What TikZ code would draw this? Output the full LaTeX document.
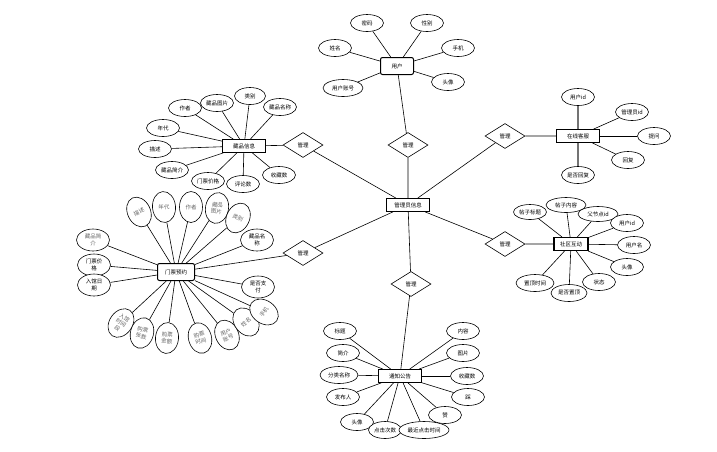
\documentclass[tikz,border=0pt]{standalone}
\usepackage{fontspec}
\setmainfont{Noto Sans CJK SC}
\usetikzlibrary{shapes.geometric}
\begin{document}
\begin{tikzpicture}[x=1pt,y=-1pt,
 att/.style={ellipse,draw,fill=white,line width=0.6pt,minimum width=33pt,minimum height=17pt,inner sep=0pt,align=center,font=\fontsize{5.5}{6}\selectfont},
 att2/.style={att,minimum height=22pt,font=\fontsize{5.5}{6.5}\selectfont},
 ent/.style={rectangle,draw,fill=white,line width=0.8pt,minimum width=43pt,minimum height=13pt,inner sep=0pt,font=\fontsize{5.5}{6}\selectfont},
 rent/.style={ent,rounded corners=2pt,line width=1pt},
 rel/.style={diamond,draw,fill=white,line width=0.6pt,minimum width=40pt,minimum height=25pt,inner sep=0pt,aspect=1.6,font=\fontsize{5.5}{6}\selectfont},
 vatt/.style={ellipse,draw,fill=white,line width=0.6pt,minimum width=23pt,minimum height=31pt,inner sep=-1pt,align=center,font=\fontsize{5.5}{6.3}\selectfont,text=black!60},
 lnk/.style={line width=0.6pt},
 glnk/.style={line width=1.4pt,draw=black!55}]
\useasboundingbox (0,0) rectangle (717,451);

% central
\node[ent] (adm) at (408,205) {管理员信息};
\node[rel] (r1) at (408,145) {管理};
\node[rel] (r2) at (303,145) {管理};
\node[rel] (r3) at (505,136) {管理};
\node[rel] (r4) at (303,253) {管理};
\node[rel] (r5) at (505,244) {管理};
\node[rel] (r6) at (411,284) {管理};

% user
\node[rent,minimum width=33pt,minimum height=17pt] (user) at (397,66) {用户};
\node[att] (u1) at (367,23) {密码};
\node[att] (u2) at (427,23) {性别};
\node[att] (u3) at (335,48) {姓名};
\node[att] (u4) at (458,48) {手机};
\node[att,minimum width=40pt] (u5) at (343,88) {用户账号};
\node[att] (u6) at (448,82) {头像};

% collection
\node[ent] (col) at (244,146) {藏品信息};
\node[att] (c1) at (185,108) {作者};
\node[att] (c2) at (217,103) {藏品图片};
\node[att,minimum width=31pt] (c3) at (250,96) {类别};
\node[att] (c4) at (280,107) {藏品名称};
\node[att] (c5) at (163,128) {年代};
\node[att] (c6) at (155,149) {描述};
\node[att] (c7) at (172,170) {藏品简介};
\node[att] (c8) at (208,181) {门票价格};
\node[att] (c9) at (243,184) {评论数};
\node[att] (c10) at (279,175) {收藏数};

% service
\node[ent] (svc) at (578,136) {在线客服};
\node[att] (s1) at (578,97) {用户id};
\node[att] (s2) at (632,112) {管理员id};
\node[att] (s3) at (654,136) {提问};
\node[att] (s4) at (628,160) {回复};
\node[att] (s5) at (578,175) {是否回复};

% community
\node[ent,minimum width=34pt,line width=1.2pt] (com) at (571,244) {社区互动};
\node[att,minimum height=15pt] (m1) at (530,212) {帖子标题};
\node[att,minimum width=40pt,minimum height=15pt] (m2) at (566,205) {帖子内容};
\node[att,minimum width=40pt,minimum height=15pt] (m3) at (598,214) {父节点id};
\node[att] (m4) at (627,223) {用户id};
\node[att] (m5) at (634,245) {用户名};
\node[att] (m6) at (627,267) {头像};
\node[att] (m7) at (599,282) {状态};
\node[att,minimum width=38pt] (m9) at (535,283) {置顶时间};
\node[att,minimum width=36pt] (m8) at (569,293) {是否置顶};

% notice
\node[ent] (ntc) at (400,376) {通知公告};
\node[att] (n1) at (340,331) {标题};
\node[att] (n2) at (343,353) {简介};
\node[att,minimum width=38pt] (n3) at (339,375) {分类名称};
\node[att] (n4) at (343,397) {发布人};
\node[att] (n5) at (357,422) {头像};
\node[att] (n6) at (385,430) {点击次数};
\node[att,minimum width=50pt] (n7) at (424,430) {最近点击时间};
\node[att] (n8) at (445,415) {赞};
\node[att] (n9) at (468,397) {踩};
\node[att] (n10) at (467,376) {收藏数};
\node[att] (n11) at (463,353) {图片};
\node[att] (n12) at (463,331) {内容};

% ticket
\node[rent,minimum width=37pt,minimum height=17pt] (tk) at (176,272) {门票预约};
\node[vatt,rotate=25] (v1) at (139,212) {描述};
\node[vatt,rotate=5] (v2) at (164,207) {年代};
\node[vatt] (v3) at (191,207) {作者};
\node[vatt,rotate=-10] (v4) at (217,208) {藏品\\图片};
\node[vatt,rotate=-25] (v5) at (238,218) {类别};
\node[att2] (v6) at (257,240) {藏品名\\称};
\node[att2,text=black!60] (v7) at (93,240) {藏品简\\介};
\node[att2] (v8) at (94,265) {门票价\\格};
\node[att2] (v9) at (94,285) {入馆日\\期};
\node[att2] (v10) at (258,287) {是否支\\付};
\node[vatt,rotate=-35] (b1) at (121,323) {入馆\\时间\\段};
\node[vatt,rotate=-15] (b2) at (142,333) {购票\\张数};
\node[vatt,rotate=-5] (b3) at (167,338) {购票\\金额};
\node[vatt,rotate=15] (b4) at (200,338) {购票\\时间};
\node[vatt,rotate=25] (b5) at (227,335) {用户\\账号};
\node[vatt,rotate=38] (b6) at (246,322) {姓名};
\node[vatt,rotate=55] (b7) at (264,312) {手机};

% connectors
\foreach \a in {u1,u2,u3,u4,u5,u6} \draw[lnk] (user) -- (\a);
\foreach \a in {c1,c2,c3,c4,c5,c6,c7,c8,c9,c10} \draw[lnk] (col) -- (\a);
\foreach \a in {s2,s3,s4} \draw[lnk] (svc) -- (\a);
\foreach \a in {s1,s5} \draw[glnk] (svc) -- (\a);
\foreach \a in {m1,m2,m3,m4,m5,m6,m7,m8,m9} \draw[lnk] (com) -- (\a);
\foreach \a in {n1,n2,n3,n4,n5,n6,n7,n8,n9,n10,n11,n12} \draw[lnk] (ntc) -- (\a);
\foreach \a in {v1,v2,v3,v4,v5,v6,v7,v8,v9,v10,b1,b2,b3,b4,b5,b6,b7} \draw[lnk] (tk) -- (\a);
\draw[lnk] (user) -- (r1) -- (adm);
\draw[lnk] (col) -- (r2) -- (adm);
\draw[lnk] (svc) -- (r3) -- (adm);
\draw[lnk] (tk) -- (r4) -- (adm);
\draw[lnk] (com) -- (r5) -- (adm);
\draw[lnk] (ntc) -- (r6) -- (adm);
\end{tikzpicture}
\end{document}
